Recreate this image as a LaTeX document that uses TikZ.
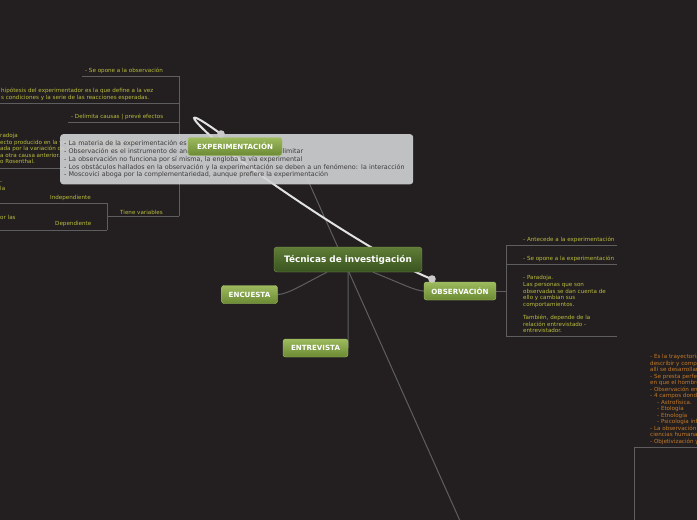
\documentclass[tikz,border=0pt]{standalone}
\usepackage{fontspec}
\setmainfont{DejaVu Sans}
\usetikzlibrary{positioning}

\definecolor{board}{HTML}{231F20}
\definecolor{wiregray}{HTML}{5E5E5E}
\definecolor{lemon}{HTML}{BABD3C}
\definecolor{amber}{HTML}{C47A28}
\definecolor{notegray}{HTML}{D2D3D5}
\definecolor{notetext}{HTML}{3C3C3C}
\definecolor{loopwhite}{HTML}{E2E2E2}
\definecolor{dotgray}{HTML}{C9C9C9}
\definecolor{mossTop}{HTML}{5F7D37}
\definecolor{mossBot}{HTML}{3A5420}
\definecolor{mossEdge}{HTML}{7E9A52}
\definecolor{leafTop}{HTML}{9DBA5E}
\definecolor{leafBot}{HTML}{6B8A33}
\definecolor{leafEdge}{HTML}{A9C46C}

\pgfdeclarelayer{wires}
\pgfsetlayers{wires,main}

\tikzset{
  topic/.style={rounded corners=3pt, draw=mossEdge, top color=mossTop, bottom color=mossBot,
    text=white, font=\bfseries\fontsize{8.9}{10}\selectfont, minimum width=148pt, minimum height=25pt, inner sep=0pt},
  branch/.style={rounded corners=2.5pt, draw=leafEdge, top color=leafTop, bottom color=leafBot,
    text=white, font=\bfseries\fontsize{7.1}{8}\selectfont, minimum height=18pt, inner sep=0pt},
  wire/.style={draw=wiregray, line width=1pt},
  leaf/.style={text=lemon, font=\fontsize{5.6}{6.6}\selectfont, inner sep=0pt, align=left},
  amberleaf/.style={leaf, text=amber, font=\fontsize{5.6}{6.5}\selectfont},
  tipbox/.style={rounded corners=3pt, fill=notegray, fill opacity=.9, text opacity=1, text=notetext,
    font=\fontsize{6.4}{7.9}\selectfont, align=left, text width=345pt, minimum height=48pt,
    inner xsep=4pt, inner ysep=6pt, anchor=north west},
  relation/.style={draw=loopwhite, line width=2pt},
  knob/.style={fill=dotgray}
}

\begin{document}
\begin{tikzpicture}[x=1pt,y=-1pt]
  \useasboundingbox (0,0) rectangle (697,520);

  % main topic and branches
  \node[topic] (tecnicas) at (348,259.5) {Técnicas de investigación};
  \node[branch, minimum width=56pt] (encuesta) at (249.5,294.5) {ENCUESTA};
  \node[branch, minimum width=65pt] (entrevista) at (315.5,348) {ENTREVISTA};
  \node[branch, minimum width=72pt] (observacion) at (460,291) {OBSERVACIÓN};

  % observacion notes
  \node[leaf, anchor=west] (antecede) at (523,240) {- Antecede a la experimentación};
  \node[leaf, anchor=west] (seopone) at (523,259) {- Se opone a la experimentación};
  \node[leaf, anchor=north west] (paradoja) at (523,275.5) {- Paradoja.\\Las personas que son\\observadas se dan cuenta de\\ello y cambian sus\\comportamientos.\\[6.6pt]También, depende de la\\relación entrevistado -\\entrevistador.};

  % experimentacion notes (left)
  \node[leaf, anchor=west] (opone) at (85,71) {- Se opone a la observación};
  \node[leaf, anchor=north west, font=\fontsize{5.6}{7}\selectfont] (hipotesis) at (1,87.5) {hipótesis del experimentador es la que define a la vez\\s condiciones y la serie de las reacciones esperadas.};
  \node[leaf, anchor=west] (delimita) at (71,117) {- Delimita causas | prevé efectos};
  \node[leaf, anchor=north west, font=\fontsize{5.6}{6.5}\selectfont] (rosenthal) at (0,133.5) {radoja\\ecto producido en la variable dependiente puede\\ada por la variación de la independiente sino\\a otra causa anterior.\\o Rosenthal.};
  \node[leaf, anchor=north west, font=\fontsize{5.6}{7.5}\selectfont] (guion) at (0,181.5) {-\\la};
  \node[leaf, anchor=west] (orlas) at (0,217) {or las};
  \node[leaf, anchor=west] (indep) at (50,198) {Independiente};
  \node[leaf, anchor=west] (dep) at (55,224) {Dependiente};
  \node[leaf, anchor=west] (variables) at (120,212) {Tiene variables};

  % far branch, cut by the right edge
  \node[amberleaf, anchor=north west] (campos) at (650,354.5) {- Es la trayectoria\\describir y compr\\allí se desarrollan\\- Se presta perfec\\en que el hombre\\- Observación en\\- 4 campos donde\\\hspace*{7pt}- Astrofísica.\\\hspace*{7pt}- Etología\\\hspace*{7pt}- Etnología\\\hspace*{7pt}- Psicología inf\\- La observación\\ciencias humanas\\- Objetivización y};

  % tooltip over experimentacion
  \node[tipbox] (tooltip) at (60,134) {- La materia de la experimentación es la misma de la observación\\
    - Observación es el instrumento de análisis de lo que se trata de delimitar\\
    - La observación no funciona por sí misma, la engloba la vía experimental\\
    - Los obstáculos hallados en la observación y la experimentación se deben a un fenómeno: la interacción\\
    - Moscovici aboga por la complementariedad, aunque prefiere la experimentación};
  \node[branch, minimum width=94pt] (experimentacion) at (235,146.5) {EXPERIMENTACIÓN};

  \coordinate (obsdot) at (432,279);
  \coordinate (expdot) at (221,134);
  \coordinate (lowend) at (465,532);
  \coordinate (tipend) at (298,158);

  \begin{pgfonlayer}{wires}
    \fill[board] (0,0) rectangle (697,520);
    % connectors from the main topic
    \draw[wire] ([xshift=-21pt]tecnicas.south) .. controls +(-22,11) and +(10,0) .. (encuesta.east);
    \draw[wire] (tecnicas.south) -- (entrevista.east);
    \draw[wire] ([xshift=25pt]tecnicas.south) .. controls +(30,12) and +(-8,0) .. (observacion.west);
    \draw[wire] (lowend) -- (tipend);
    % observacion tree
    \draw[wire] (observacion.east) -- (506,291);
    \draw[wire] (506,245) -- (506,336);
    \foreach \yy in {245,264,336} \draw[wire] (506,\yy) -- (617,\yy);
    % experimentacion tree
    \draw[wire] (179,76) -- (179,216);
    \draw[wire] (82,76) -- (179,76);
    \draw[wire] (0,103) -- (179,103);
    \draw[wire] (68,122) -- (179,122);
    \draw[wire] (0,168) -- (179,168);
    \draw[wire] (107,216) -- (179,216);
    \draw[wire] (107,203) -- (107,230);
    \draw[wire] (0,203) -- (107,203);
    \draw[wire] (0,230) -- (107,230);
    % frame at the bottom right
    \draw[wire] (634,520) -- (634,447) -- (697,447);
    % relation curve
    \draw[relation] (obsdot) .. controls (400,268) and (300,205) .. (240,160)
      .. controls (200,130) and (170,97) .. (expdot);
  \end{pgfonlayer}

  \fill[knob] (obsdot) circle (3.8);
  \fill[knob] (expdot) circle (3.8);
\end{tikzpicture}
\end{document}
